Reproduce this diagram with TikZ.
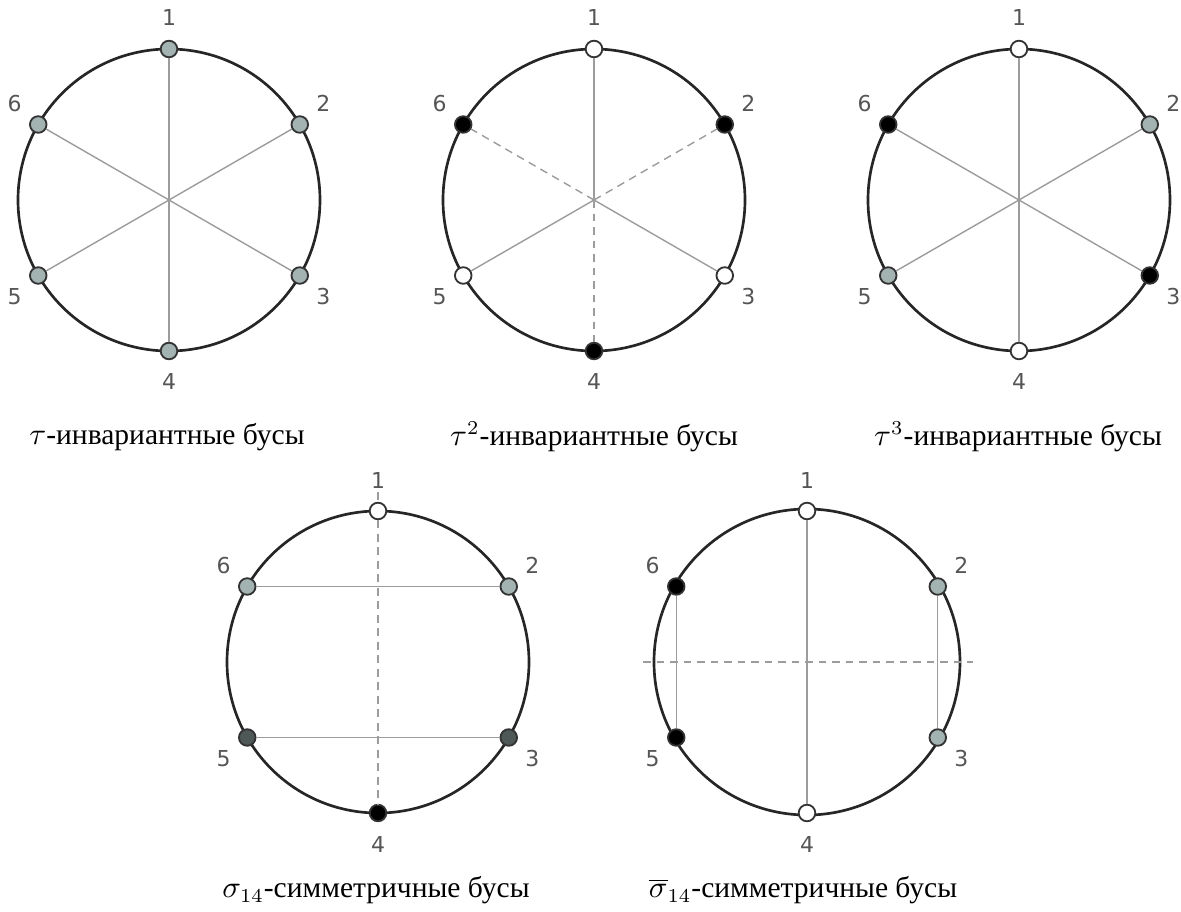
\documentclass[tikz,border=0pt]{standalone}
\usepackage[no-math]{fontspec}
\setmainfont{Liberation Serif}
\newfontfamily\numfont{DejaVu Sans}
\usetikzlibrary{positioning}
\definecolor{beadgray}{HTML}{A3B3B1}
\definecolor{beaddark}{HTML}{4E5857}
\definecolor{chordgray}{HTML}{9C9C9C}
\definecolor{numgray}{HTML}{555555}
\tikzset{
  ring/.style={draw=black!85,line width=0.95pt},
  bead/.style={circle,draw=black!80,line width=0.65pt,inner sep=0pt,minimum size=5.9pt},
  chord/.style={draw=chordgray,line width=0.5pt},
  symaxis/.style={draw=chordgray,line width=0.5pt,dash pattern=on 2.8pt off 2pt},
  num/.style={text=numgray,font=\numfont\fontsize{7.8}{9}\selectfont},
  capt/.style={font=\fontsize{10.5}{12}\selectfont}
}

\begin{document}
\begin{tikzpicture}[x=0.0125cm,y=0.0125cm]
\useasboundingbox (0,0) rectangle (1181,911);
% tau
\begin{scope}[shift={(169,711)}]
\coordinate (a0) at (0,0);
\draw[ring] (a0) circle[radius=151];
\foreach \k/\c in {1/beadgray,2/beadgray,3/beadgray,4/beadgray,5/beadgray,6/beadgray}
  {\node[bead,fill=\c] (a\k) at ({150-60*\k}:151) {};}
\foreach \k/\t in {1/90,2/32,3/-32,4/-90,5/-148,6/148} {\node[num] (la\k) at (\t:182) {\k};}
\draw[chord] (a1) -- (a4);
\draw[chord] (a2) -- (a5);
\draw[chord] (a3) -- (a6);
\node[capt] (ca) at (-2,-237) {$\tau$-инвариантные бусы};
\end{scope}
% tau^2
\begin{scope}[shift={(594,711)}]
\coordinate (b0) at (0,0);
\draw[ring] (b0) circle[radius=151];
\foreach \k/\c in {1/white,2/black,3/white,4/black,5/white,6/black}
  {\node[bead,fill=\c] (b\k) at ({150-60*\k}:151) {};}
\foreach \k/\t in {1/90,2/32,3/-32,4/-90,5/-148,6/148} {\node[num] (lb\k) at (\t:182) {\k};}
\foreach \k in {1,3,5} {\draw[chord] (b0) -- (b\k);}
\foreach \k in {2,4,6} {\draw[symaxis] (b0) -- (b\k);}
\node[capt] (cb) at (0,-237) {$\tau^2$-инвариантные бусы};
\end{scope}
% tau^3
\begin{scope}[shift={(1019,711)}]
\coordinate (c0) at (0,0);
\draw[ring] (c0) circle[radius=151];
\foreach \k/\c in {1/white,2/beadgray,3/black,4/white,5/beadgray,6/black}
  {\node[bead,fill=\c] (c\k) at ({150-60*\k}:151) {};}
\foreach \k/\t in {1/90,2/32,3/-32,4/-90,5/-148,6/148} {\node[num] (lc\k) at (\t:182) {\k};}
\draw[chord] (c1) -- (c4);
\draw[chord] (c2) -- (c5);
\draw[chord] (c3) -- (c6);
\node[capt] (cc) at (-1,-237) {$\tau^3$-инвариантные бусы};
\end{scope}
% sigma_14
\begin{scope}[shift={(378,249)}]
\coordinate (d0) at (0,0);
\draw[ring] (d0) circle[radius=151];
\foreach \k/\c in {1/white,2/beadgray,3/beaddark,4/black,5/beaddark,6/beadgray}
  {\node[bead,fill=\c] (d\k) at ({150-60*\k}:151) {};}
\foreach \k/\t in {1/90,2/32,3/-32,4/-90,5/-148,6/148} {\node[num] (ld\k) at (\t:182) {\k};}
\coordinate (dtop) at (0,170);
\draw[chord] (d6) -- (d2);
\draw[chord] (d5) -- (d3);
\draw[symaxis] (dtop) -- (d1);
\draw[symaxis] (d1) -- (d4);
\node[capt] (cd) at (-2,-228) {$\sigma_{14}$-симметричные бусы};
\end{scope}
% bar sigma_14
\begin{scope}[shift={(807,249)}]
\coordinate (e0) at (0,0);
\draw[ring] (e0) circle[radius=153];
\foreach \k/\c in {1/white,2/beadgray,3/beadgray,4/white,5/black,6/black}
  {\node[bead,fill=\c] (e\k) at ({150-60*\k}:151) {};}
\foreach \k/\t in {1/90,2/32,3/-32,4/-90,5/-148,6/148} {\node[num] (le\k) at (\t:182) {\k};}
\coordinate (el) at (-164,0);
\coordinate (er) at (166,0);
\draw[chord] (e1) -- (e4);
\draw[chord] (e6) -- (e5);
\draw[chord] (e2) -- (e3);
\draw[symaxis] (el) -- (er);
\node[capt] (ce) at (-4,-228) {$\overline{\sigma}_{14}$-симметричные бусы};
\end{scope}
\end{tikzpicture}
\end{document}
